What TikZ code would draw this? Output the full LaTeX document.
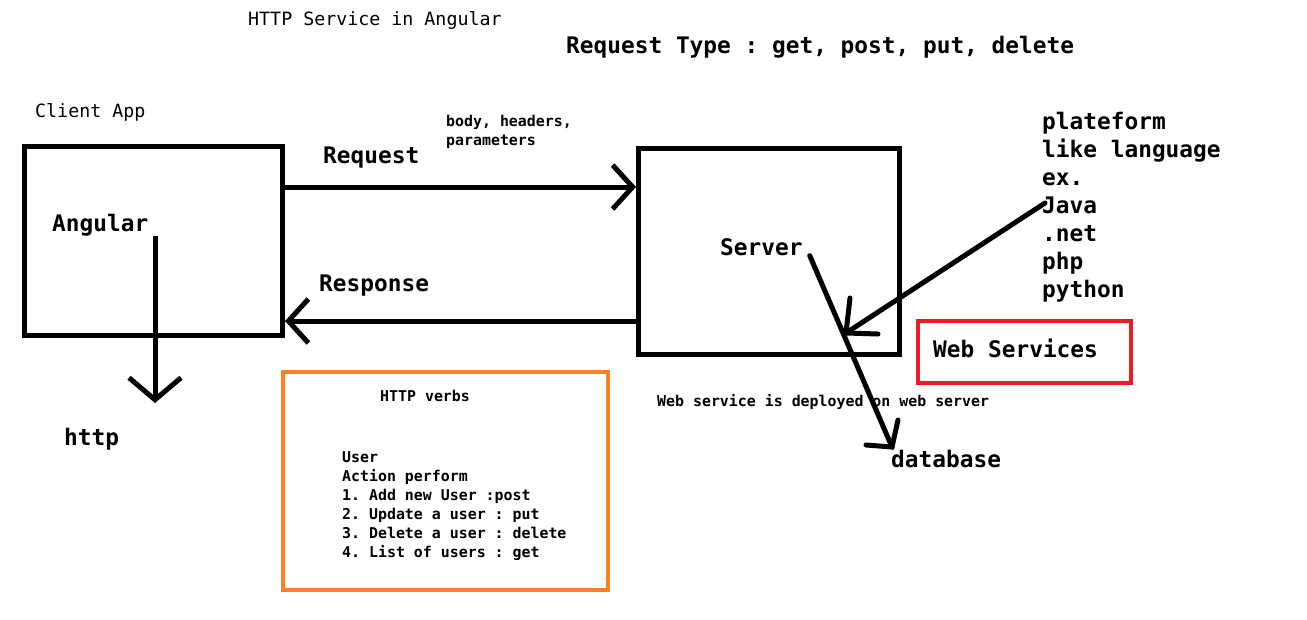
\documentclass[tikz,border=0pt]{standalone}
\usepackage{fontspec}
\setmonofont{DejaVu Sans Mono}
\usepackage{tikz}
\usetikzlibrary{arrows.meta}
\usetikzlibrary{calc}
\definecolor{paintorange}{HTML}{FF7F27}
\definecolor{paintred}{HTML}{ED1C24}
\tikzset{lb/.style={font=\ttfamily\bfseries\fontsize{22.8}{22.8}\selectfont, inner sep=0pt, anchor=mid west, yshift=-5pt}}
\tikzset{sb/.style={font=\ttfamily\bfseries\fontsize{14.9}{14.9}\selectfont, inner sep=0pt, anchor=mid west, yshift=-4pt}}
\tikzset{rn/.style={font=\ttfamily\fontsize{18.3}{18.3}\selectfont, inner sep=0pt, anchor=mid west, yshift=-4pt}}
\tikzset{box/.style={draw, line width=5pt, inner sep=0pt}}
\tikzset{arr/.style={line width=5pt, -{Straight Barb[length=20pt,width=44pt]}}}
\tikzset{pen/.style={line width=5pt, line cap=round}}

\begin{document}
\begin{tikzpicture}[x=1pt, y=-1pt]
  \useasboundingbox (0,0) rectangle (1307,619);
  % headings
  \node [rn] (title) at (248,19) {HTTP Service in Angular};
  \node [lb] (types) at (566,46) {Request Type : get, post, put, delete};
  % client side
  \node [rn] (clientapp) at (35,111) {Client App};
  \node [box, minimum width=258pt, minimum height=189pt] (client) at (153.5,241) {};
  \node [lb] (angular) at (52,224) {Angular};
  \node [lb] (http) at (64,438) {http};
  \coordinate (angtop) at (155,236);
  \coordinate (httptip) at (155,403);
  \draw [arr, -{Straight Barb[length=22pt,width=52pt]}] (angtop) -- (httptip);
  % server side
  \node [box, minimum width=261pt, minimum height=206pt] (server) at (769,251.5) {};
  \node [lb] (srvlabel) at (720,248) {Server};
  % request / response
  \node [lb] (request) at (323,156) {Request};
  \node [sb] (body) at (446,120) {body, headers,};
  \node [sb] (params) at (446,139) {parameters};
  \node [lb] (response) at (319,284) {Response};
  \coordinate (reqy) at (0,187);
  \coordinate (resy) at (0,321);
  \draw [arr] (client.east |- reqy) -- (server.west |- reqy);
  \draw [arr] (server.west |- resy) -- (client.east |- resy);
  % languages
  \node [lb] (plat) at (1042,122) {plateform};
  \node [lb] (like) at (1042,150) {like language};
  \node [lb] (ex) at (1042,178) {ex.};
  \node [lb] (java) at (1042,206) {Java};
  \node [lb] (dotnet) at (1042,234) {.net};
  \node [lb] (php) at (1042,262) {php};
  \node [lb] (python) at (1042,290) {python};
  \coordinate (langtip) at (846,333);
  \draw [pen] ($(java.west)+(3,-2)$) -- (langtip);
  \draw [pen] (langtip) ++(4,-35) -- (langtip) -- ++(32,1);
  % web services
  \node [box, draw=paintred, line width=4pt, minimum width=213pt, minimum height=62pt] (websvc) at (1024.5,352) {};
  \node [lb] (wslabel) at (933,350) {Web Services};
  \node [sb] (deployed) at (657,400) {Web service is deployed on web server};
  \node [lb] (db) at (891,460) {database};
  \coordinate (dbtip) at (892,447);
  \draw [pen] ($(srvlabel.south east)+(7,0)$) -- (dbtip);
  \draw [pen] (dbtip) ++(6,-27) -- (dbtip) -- ++(-26,-2);
  % verbs
  \node [box, draw=paintorange, line width=4pt, minimum width=325pt, minimum height=218pt] (verbs) at (445.5,481) {};
  \node [sb] (verbtitle) at (380,395) {HTTP verbs};
  \node [sb] (user) at (342,456) {User};
  \node [sb] (action) at (342,475) {Action perform};
  \node [sb] (vpost) at (342,494) {1. Add new User :post};
  \node [sb] (vput) at (342,513) {2. Update a user : put};
  \node [sb] (vdelete) at (342,532) {3. Delete a user : delete};
  \node [sb] (vget) at (342,551) {4. List of users : get};
\end{tikzpicture}
\end{document}
